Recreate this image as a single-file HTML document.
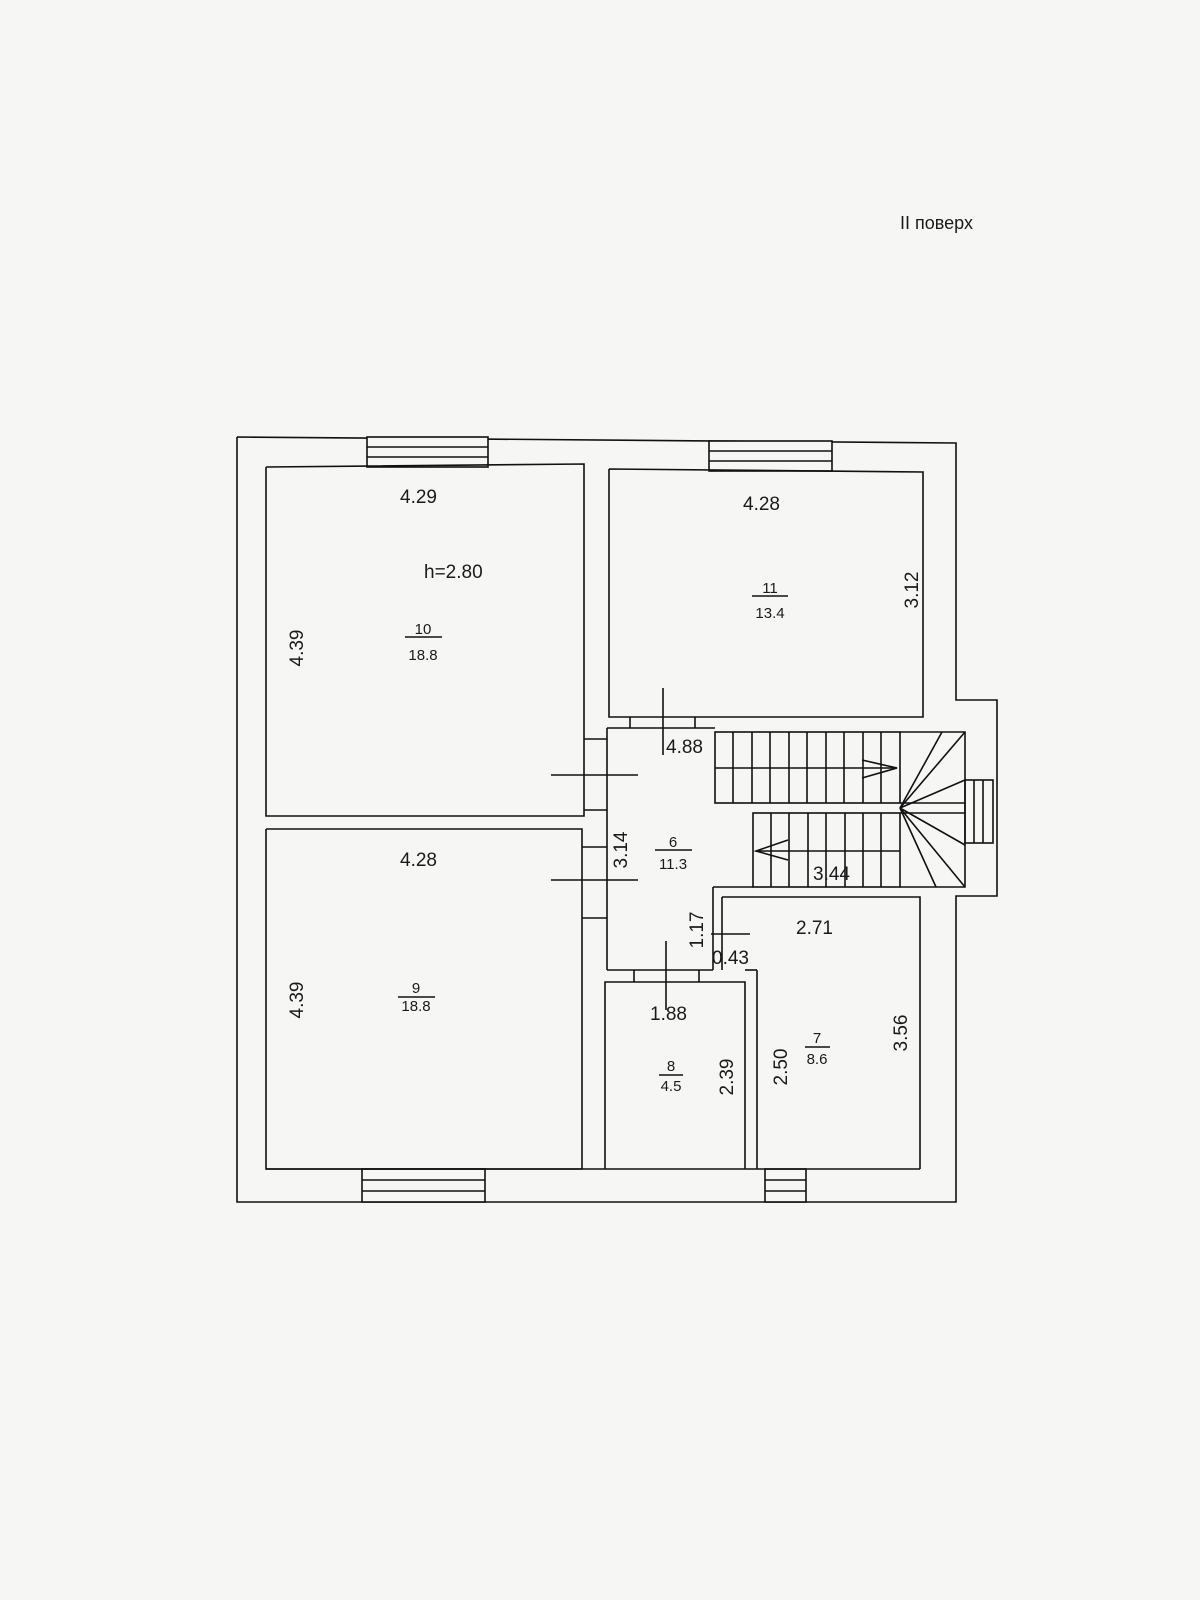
<!DOCTYPE html>
<html><head><meta charset="utf-8"><style>
html,body{margin:0;padding:0;background:#f6f6f5;}
svg{display:block}
text{font-family:"Liberation Sans",sans-serif;fill:#1a1a1a}
</style></head><body>
<svg width="1200" height="1600" viewBox="0 0 1200 1600" xmlns="http://www.w3.org/2000/svg">
<rect width="1200" height="1600" fill="#f6f6f5"/>
<g stroke="#111" stroke-width="1.6" fill="none">
<!-- outer wall -->
<polyline points="237,437 956,443 956,700 997,700 997,896 956,896 956,1202 237,1202 237,437"/>
<!-- windows top -->
<rect x="367" y="437" width="121" height="30" fill="#f6f6f5"/>
<line x1="367" y1="447" x2="488" y2="447"/><line x1="367" y1="457" x2="488" y2="457"/>
<rect x="709" y="441" width="123" height="30" fill="#f6f6f5"/>
<line x1="709" y1="451" x2="832" y2="451"/><line x1="709" y1="461" x2="832" y2="461"/>
<!-- windows bottom -->
<rect x="362" y="1169" width="123" height="33" fill="#f6f6f5"/>
<line x1="362" y1="1180" x2="485" y2="1180"/><line x1="362" y1="1191" x2="485" y2="1191"/>
<rect x="765" y="1169" width="41" height="33" fill="#f6f6f5"/>
<line x1="765" y1="1180" x2="806" y2="1180"/><line x1="765" y1="1191" x2="806" y2="1191"/>
<!-- bump window -->
<rect x="965" y="780" width="28" height="63"/>
<line x1="974" y1="780" x2="974" y2="843"/><line x1="983" y1="780" x2="983" y2="843"/>
<!-- rooms -->
<polyline points="266,467 584,464 584,816 266,816 266,467"/>
<polyline points="609,469 923,472 923,717 609,717 609,469"/>
<polyline points="266,829 582,829 582,1169 266,1169 266,829"/>
<!-- corridor -->
<polyline points="607,728 715,728"/>
<line x1="607" y1="728" x2="607" y2="970"/>
<line x1="607" y1="970" x2="713" y2="970"/>
<line x1="713" y1="887" x2="713" y2="970"/>
<line x1="713" y1="887" x2="753" y2="887"/>
<line x1="722" y1="897" x2="722" y2="970"/>
<!-- door jambs -->
<line x1="584" y1="739" x2="607" y2="739"/><line x1="584" y1="810" x2="607" y2="810"/>
<line x1="582" y1="847" x2="607" y2="847"/><line x1="582" y1="918" x2="607" y2="918"/>
<line x1="630" y1="717" x2="630" y2="728"/><line x1="695" y1="717" x2="695" y2="728"/>
<line x1="634" y1="970" x2="634" y2="982"/><line x1="699" y1="970" x2="699" y2="982"/>
<!-- room 8 -->
<polyline points="605,1169 605,982 745,982 745,1169"/>
<!-- room 7 -->
<polyline points="722,897 920,897 920,1169"/>
<line x1="745" y1="970" x2="757" y2="970"/>
<line x1="757" y1="970" x2="757" y2="1169"/>
<line x1="266" y1="1169" x2="920" y2="1169"/>
<!-- stairs upper flight -->
<rect x="715" y="732" width="185" height="71"/>
<g id="t1">
<line x1="733" y1="732" x2="733" y2="803"/><line x1="752" y1="732" x2="752" y2="803"/><line x1="770" y1="732" x2="770" y2="803"/><line x1="789" y1="732" x2="789" y2="803"/><line x1="807" y1="732" x2="807" y2="803"/><line x1="826" y1="732" x2="826" y2="803"/><line x1="844" y1="732" x2="844" y2="803"/><line x1="863" y1="732" x2="863" y2="803"/><line x1="881" y1="732" x2="881" y2="803"/>
</g>
<line x1="715" y1="768" x2="897" y2="768"/>
<polyline points="862,760 897,768 862,778"/>
<!-- lower flight -->
<rect x="753" y="813" width="147" height="74"/>
<line x1="771" y1="813" x2="771" y2="887"/><line x1="789" y1="813" x2="789" y2="887"/><line x1="808" y1="813" x2="808" y2="887"/><line x1="826" y1="813" x2="826" y2="887"/><line x1="845" y1="813" x2="845" y2="887"/><line x1="863" y1="813" x2="863" y2="887"/><line x1="881" y1="813" x2="881" y2="887"/>
<line x1="900" y1="851" x2="756" y2="851"/>
<polyline points="788,840 756,851 788,860"/>
<!-- winders -->
<polyline points="900,732 965,732 965,887 900,887"/>
<line x1="900" y1="803" x2="965" y2="803"/><line x1="900" y1="813" x2="965" y2="813"/>
<line x1="900" y1="808" x2="965" y2="732"/>
<line x1="900" y1="808" x2="942" y2="732"/>
<line x1="900" y1="808" x2="965" y2="780"/>
<line x1="900" y1="808" x2="965" y2="845"/>
<line x1="900" y1="808" x2="965" y2="887"/>
<line x1="900" y1="808" x2="936" y2="887"/>
<!-- dimension ticks -->
<line x1="551" y1="775" x2="638" y2="775"/>
<line x1="663" y1="688" x2="663" y2="755"/>
<line x1="551" y1="880" x2="638" y2="880"/>
<line x1="711" y1="934" x2="750" y2="934"/>
<line x1="666" y1="941" x2="666" y2="1010"/>
<!-- fraction lines -->
<line x1="405" y1="637" x2="442" y2="637"/>
<line x1="752" y1="596" x2="788" y2="596"/>
<line x1="655" y1="850" x2="692" y2="850"/>
<line x1="398" y1="997" x2="435" y2="997"/>
<line x1="659" y1="1075" x2="683" y2="1075"/>
<line x1="805" y1="1047" x2="830" y2="1047"/>
</g>
<g font-size="19">
<text x="900" y="229" font-size="18">II поверх</text>
<text x="400" y="503">4.29</text>
<text x="424" y="578">h=2.80</text>
<text x="743" y="510">4.28</text>
<text x="666" y="753">4.88</text>
<text x="400" y="866">4.28</text>
<text x="813" y="880">3.44</text>
<text x="796" y="934">2.71</text>
<text x="712" y="964">0.43</text>
<text x="650" y="1020">1.88</text>
</g>
<g font-size="15" text-anchor="middle">
<text x="423" y="634">10</text><text x="423" y="660">18.8</text>
<text x="770" y="593">11</text><text x="770" y="618">13.4</text>
<text x="673" y="847">6</text><text x="673" y="869">11.3</text>
<text x="416" y="993">9</text><text x="416" y="1011">18.8</text>
<text x="671" y="1071">8</text><text x="671" y="1091">4.5</text>
<text x="817" y="1043">7</text><text x="817" y="1064">8.6</text>
</g>
<g font-size="19" text-anchor="middle">
<text transform="translate(303,648) rotate(-90)">4.39</text>
<text transform="translate(303,1000) rotate(-90)">4.39</text>
<text transform="translate(918,590) rotate(-90)">3.12</text>
<text transform="translate(627,850) rotate(-90)">3.14</text>
<text transform="translate(703,930) rotate(-90)">1.17</text>
<text transform="translate(733,1077) rotate(-90)">2.39</text>
<text transform="translate(787,1067) rotate(-90)">2.50</text>
<text transform="translate(907,1033) rotate(-90)">3.56</text>
</g>
</svg>
</body></html>
